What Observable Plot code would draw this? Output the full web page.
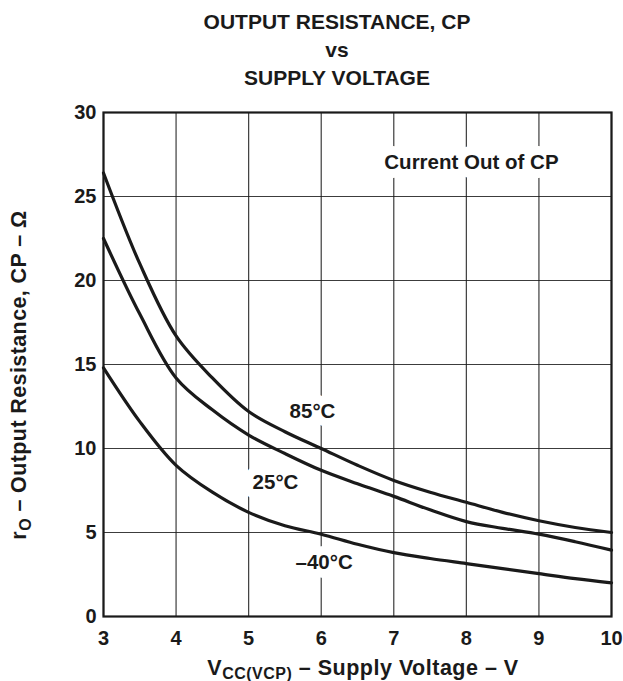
<!DOCTYPE html>
<html><head><meta charset="utf-8">
<script src="https://cdn.jsdelivr.net/npm/d3@7"></script>
<script src="https://cdn.jsdelivr.net/npm/@observablehq/plot@0.6"></script>
<style>
body{margin:0;background:#fff;font-family:"Liberation Sans",Arial,sans-serif;}
#wrap{position:relative;width:623px;height:681px;overflow:hidden;}
#title{position:absolute;left:0;top:8px;width:674px;text-align:center;font-weight:bold;font-size:21px;line-height:28px;color:#1a1a1a;z-index:2;}
#wrap svg{position:absolute;left:0;top:0;}
</style></head><body>
<div id="wrap"><div id="title">OUTPUT RESISTANCE, CP<br>vs<br>SUPPLY VOLTAGE</div></div>
<script>
const voltage = [3, 3.5, 4, 4.5, 5, 5.5, 6, 6.5, 7, 7.5, 8, 8.5, 9, 9.5, 10];
const r85  = [26.4, 21.0, 16.7, 14.2, 12.2, 11.0, 10.0, 9.0, 8.1, 7.4, 6.8, 6.2, 5.7, 5.3, 5.0];
const r25  = [22.5, 18.0, 14.2, 12.3, 10.8, 9.7, 8.7, 7.9, 7.15, 6.35, 5.65, 5.25, 4.9, 4.45, 3.95];
const rm40 = [14.8, 11.6, 9.0, 7.4, 6.2, 5.4, 4.9, 4.3, 3.8, 3.45, 3.15, 2.85, 2.55, 2.25, 2.0];
const xTicks = [3, 4, 5, 6, 7, 8, 9, 10];
const yTicks = [0, 5, 10, 15, 20, 25, 30];
const labelText = ["85°C", "25°C", "–40°C", "Current Out of CP"];
const labelX = [5.88, 5.37, 6.04, 8.07];
const labelY = [12.2, 8.0, 3.2, 27.05];

const series = [
  {name: "85", values: r85},
  {name: "25", values: r25},
  {name: "-40", values: rm40}
];
const rows = series.flatMap(s => voltage.map((v, i) => ({series: s.name, v, r: s.values[i]})));
const labels = labelText.map((t, i) => ({t, x: labelX[i], y: labelY[i]}));

const plot = Plot.plot({
  width: 623,
  height: 681,
  marginLeft: 103,
  marginRight: 12,
  marginTop: 112,
  marginBottom: 65,
  x: {domain: [3, 10]},
  y: {domain: [0, 30]},
  style: {fontFamily: "'Liberation Sans', Arial, sans-serif", fontSize: "20px", fontWeight: "bold", color: "#1a1a1a", background: "transparent", overflow: "visible"},
  marks: [
    Plot.gridX(xTicks, {stroke: "#1a1a1a", strokeOpacity: 0.85, strokeWidth: 1.2}),
    Plot.gridY(yTicks, {stroke: "#1a1a1a", strokeOpacity: 0.85, strokeWidth: 1.2}),
    Plot.text(labels, {x: "x", y: "y", text: "t", fontSize: 20.5, fontWeight: "bold", fill: "#1a1a1a", stroke: "white", strokeWidth: 18, strokeLinejoin: "round"}),
    Plot.line(rows, {x: "v", y: "r", z: "series", stroke: "#1a1a1a", strokeWidth: 3.2, curve: "catmull-rom"}),
    Plot.frame({stroke: "#1a1a1a", strokeWidth: 2.2}),
    Plot.axisX(xTicks, {tickSize: 0, tickPadding: 14, label: null, fontSize: 20, tickFormat: d => String(d)}),
    Plot.axisY(yTicks, {tickSize: 0, tickPadding: 7, label: null, fontSize: 20, tickFormat: d => String(d)})
  ]
});

const svg = d3.select(plot);
const yl = svg.append("text")
  .attr("transform", "translate(26,375) rotate(-90)")
  .attr("text-anchor", "middle")
  .attr("font-size", 21.5).attr("font-weight", "bold").attr("fill", "#1a1a1a")
  .attr("letter-spacing", 0.4);
yl.append("tspan").text("r");
yl.append("tspan").attr("font-size", 16).attr("dy", 5).text("O");
yl.append("tspan").attr("dy", -5).text(" – Output Resistance, CP – Ω");

const xl = svg.append("text")
  .attr("x", 363).attr("y", 675)
  .attr("text-anchor", "middle")
  .attr("font-size", 21.5).attr("font-weight", "bold").attr("fill", "#1a1a1a")
  .attr("letter-spacing", 0.5);
xl.append("tspan").text("V");
xl.append("tspan").attr("font-size", 16).attr("dy", 4).text("CC(VCP)");
xl.append("tspan").attr("dy", -4).text(" – Supply Voltage – V");

document.getElementById("wrap").appendChild(plot);
</script>
</body></html>
